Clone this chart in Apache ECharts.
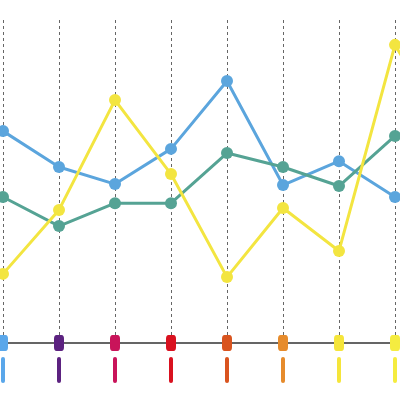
<!DOCTYPE html>
<html><head><meta charset="utf-8">
<script src="https://cdn.jsdelivr.net/npm/echarts@6/dist/echarts.min.js"></script>
<style>html,body{margin:0;padding:0;background:#fff}#c{width:400px;height:400px}</style>
</head><body><div id="c"></div>
<script>
var categories = ['1','2','3','4','5','6','7','8','9'];
var blueValues   = [65.6, 54.5, 49.2, 60.1, 81.1, 48.9, 56.3, 45.2, 44.3];
var tealValues   = [45.2, 36.2, 43.3, 43.3, 58.8, 54.5, 48.6, 64.1, 65.0];
var yellowValues = [21.4, 41.2, 75.2, 52.3, 20.4, 41.8, 28.5, 92.3, 63.0];
var categoryColors = ['#5aa7ea','#5c2280','#c9145a','#d9111f','#d9541f','#e68b2c','#f5e53a','#f5ec40','#f4ee55'];
var axisBaseValues = [0,0,0,0,0,0,0,0,0];

var rich = {};
categoryColors.forEach(function(c, i){
  rich['c' + i] = {width: 4, height: 26, lineHeight: 26, backgroundColor: c, borderRadius: 2};
});

var chart = echarts.init(document.getElementById('c'), null, {renderer: 'canvas'});
chart.setOption({
  animation: false,
  grid: {left: 3, top: 20, bottom: 57, width: 448, containLabel: false, outerBoundsMode: 'none'},
  xAxis: {
    type: 'category',
    data: categories,
    boundaryGap: false,
    axisLine: {show: true, lineStyle: {color: '#333', width: 1.5}},
    axisTick: {show: false},
    splitLine: {show: true, lineStyle: {color: '#666', width: 1, type: [3, 3]}},
    axisLabel: {
      interval: 0, margin: 14, hideOverlap: false,
      formatter: function(v, i){ return '{c' + i + '| }'; },
      rich: rich
    }
  },
  yAxis: {type: 'value', min: 0, max: 100, show: false, splitLine: {show: false}},
  series: [
    {type: 'line', data: blueValues, color: '#5ba5dd', symbol: 'circle', symbolSize: 12,
     lineStyle: {width: 3}, itemStyle: {color: '#5ba5dd'}},
    {type: 'line', data: tealValues, color: '#55a394', symbol: 'circle', symbolSize: 12,
     lineStyle: {width: 3}, itemStyle: {color: '#55a394'}},
    {type: 'line', data: yellowValues, color: '#f3e540', symbol: 'circle', symbolSize: 12,
     lineStyle: {width: 3}, itemStyle: {color: '#f3e540'}},
    {type: 'scatter', z: 5, symbol: 'roundRect', symbolSize: [10, 16], clip: false,
     data: axisBaseValues.map(function(v, i){ return {value: v, itemStyle: {color: categoryColors[i], opacity: 1}}; })}
  ]
});
</script></body></html>
